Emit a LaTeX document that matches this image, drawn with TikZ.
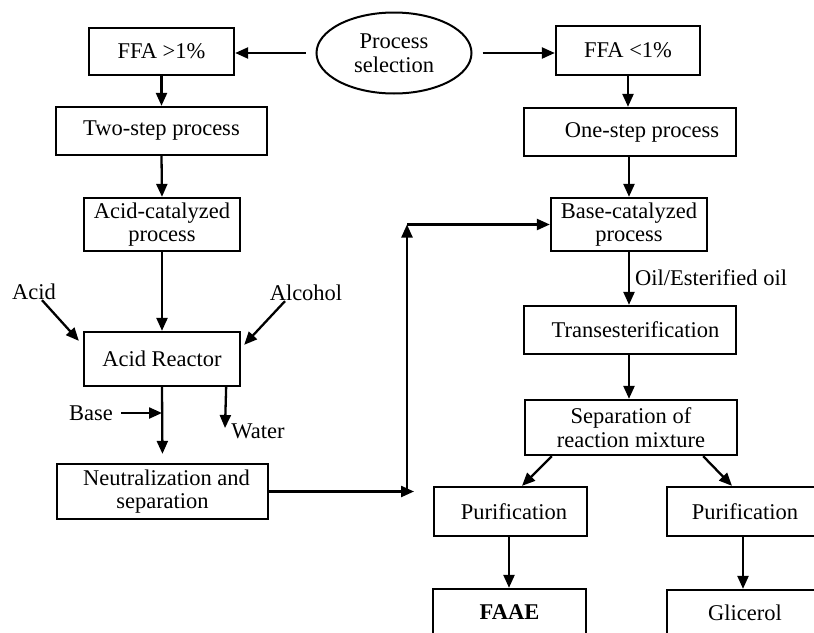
\documentclass[tikz,border=0pt]{standalone}
\usepackage{fontspec}
\setmainfont{Liberation Serif}
\usetikzlibrary{arrows.meta,shapes.geometric,calc}
\begin{document}
\begin{tikzpicture}[x=1pt,y=-1pt,
  font=\fontsize{22.5}{23.5}\selectfont,
  box/.style={draw,line width=2.3pt,inner sep=0pt,align=center},
  arr/.style={line width=2.3pt,-{Triangle[length=13pt,width=11pt]}},
  lbl/.style={inner sep=0pt}]
\useasboundingbox (0,0) rectangle (814,632);
\clip (0,0) rectangle (814,632);
\fill[white] (0,0) rectangle (814,632);

% decision at the top
\node[draw,ellipse,line width=2pt,inner sep=0pt,minimum width=155pt,minimum height=81pt,align=center] (sel) at (394,53) {Process\\selection};
\node[box,minimum width=145pt,minimum height=47pt] (ffa1) at (161.5,51.5) {FFA >1\%};
\node[box,minimum width=144pt,minimum height=49pt] (ffa2) at (628,50.5) {FFA <1\%};

% two-step branch
\node[box,minimum width=211pt,minimum height=48pt] (two) at (161.5,131) {Two-step process};
\node[box,minimum width=156pt,minimum height=53pt] (acidcat) at (162,224.5) {Acid-catalyzed\\process};
\node[box,minimum width=156pt,minimum height=54pt] (reactor) at (162,359) {Acid Reactor};
\node[box,minimum width=211pt,minimum height=55pt] (neut) at (162.5,491.5) {\hspace*{8pt}Neutralization and\\separation};
\node[lbl] (acidlbl) at (34,292) {Acid};
\node[lbl] (alclbl) at (306,293) {Alcohol};
\node[lbl] (baselbl) at (91,413) {Base};
\node[lbl] (waterlbl) at (258,431) {Water};

% one-step branch
\node[box,minimum width=212pt,minimum height=48pt] (one) at (630,132) {\hspace*{24pt}One-step process};
\node[box,minimum width=156pt,minimum height=53pt] (basecat) at (629,224.5) {Base-catalyzed\\process};
\node[box,minimum width=212pt,minimum height=48pt] (trans) at (630,330) {\hspace*{11pt}Transesterification};
\node[box,minimum width=212pt,minimum height=55pt] (sep) at (631,427.5) {Separation of\\reaction mixture};
\node[box,minimum width=153pt,minimum height=49pt] (pur1) at (510.5,511.5) {\hspace*{7pt}Purification};
\node[box,minimum width=156pt,minimum height=49pt] (pur2) at (745,511.5) {Purification};
\node[box,minimum width=153pt,minimum height=46pt] (faae) at (509.5,612) {\textbf{FAAE}};
\node[box,minimum width=156pt,minimum height=46pt] (glic) at (745,613) {Glicerol};

% helper points
\coordinate (jn) at (407,491.5);
\coordinate (jtip) at (414,491.5);
\coordinate (jup) at (407,224.5);
\coordinate (wend) at (225,428);

% connectors
\draw[arr,shorten <=10pt] (sel.west) -- (sel.west -| ffa1.east);
\draw[arr,shorten <=10pt] (sel.east) -- (sel.east -| ffa2.west);
\draw[arr] (ffa1.south) -- (two.north);
\draw[arr] (two.south) -- (acidcat.north);
\draw[arr] (acidcat.south) -- (reactor.north);
\draw[arr] ([xshift=8pt]acidlbl.south) -- ([shift={(-4,10)}]reactor.north west);
\draw[arr] ([xshift=-21pt]alclbl.south) -- ([shift={(3,14)}]reactor.north east);
\draw[arr,shorten >=9pt] (reactor.south) -- (neut.north);
\draw[arr,shorten <=8pt] (baselbl.east) -- (reactor.south |- baselbl.east);
\draw[arr] ([xshift=-15pt]reactor.south east) -- (wend);
\draw[arr] (neut.east) -- (jtip);
\draw[arr] (jn) -- (jup);
\draw[arr] (jup) -- (basecat.west);

\draw[arr] (ffa2.south) -- (ffa2.south |- one.north);
\draw[arr] (one.south -| basecat.south) -- (basecat.north);
\draw[arr] (basecat.south) -- (basecat.south |- trans.north)
  node[lbl,anchor=west,pos=0.48,xshift=5pt] {Oil/Esterified oil};
\draw[arr] (trans.south -| basecat.south) -- (sep.north -| basecat.south);
\draw[arr] ([xshift=28pt]sep.south west) -- ([xshift=11.5pt]pur1.north);
\draw[arr] ([xshift=-35pt]sep.south east) -- ([xshift=-13pt]pur2.north);
\draw[arr] ([xshift=-1.5pt]pur1.south) -- ([xshift=-0.5pt]faae.north);
\draw[arr] ([xshift=-2pt]pur2.south) -- ([xshift=-2pt]glic.north);
\end{tikzpicture}
\end{document}
